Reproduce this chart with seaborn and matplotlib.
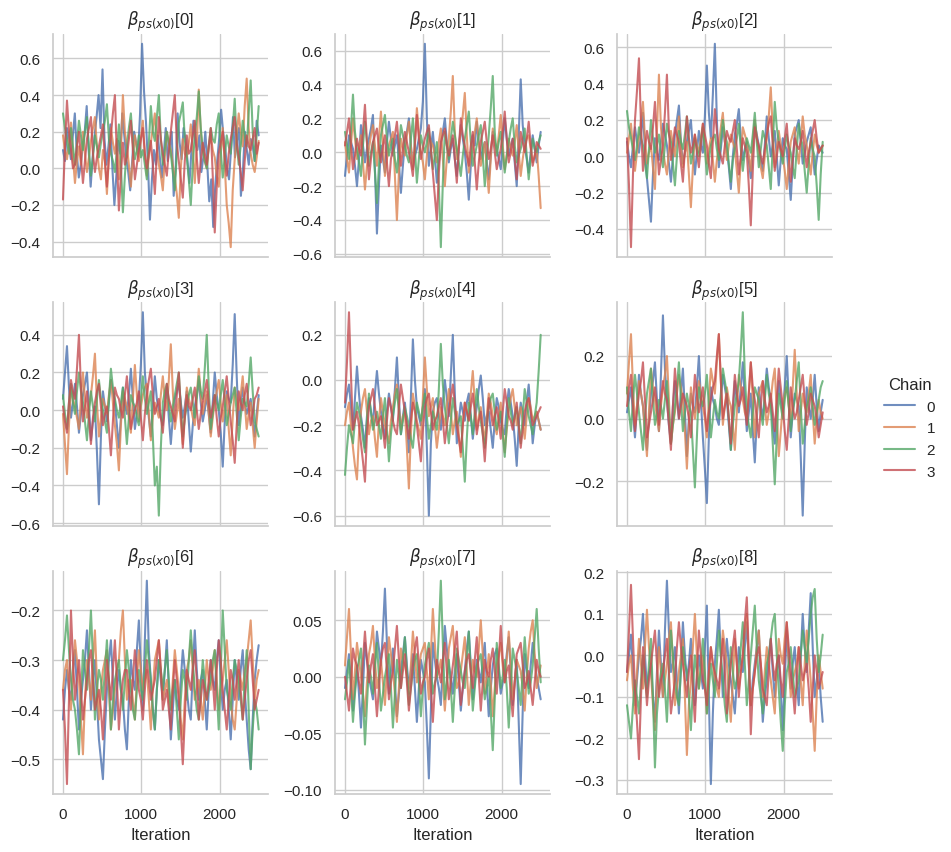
import numpy as np
import pandas as pd
import seaborn as sns
import matplotlib.pyplot as plt

chains = [0, 1, 2, 3]
n_iter = 2500
param_labels = ["$\\beta_{ps(x0)}$[%d]" % k for k in range(9)]

# one list per chain (thinned)
trace_0 = [
    [0.10, 0.04, 0.22, 0.14, 0.05, 0.18, 0.30, 0.08, -0.05, 0.02, 0.12, 0.20, 0.34, 0.10, -0.10, 0.06, 0.18, 0.28, 0.40, 0.22, 0.54, 0.16, 0.02, 0.12, 0.24, 0.00, -0.20, -0.04, 0.15, 0.08, 0.30, 0.18, 0.06, -0.02, -0.12, 0.04, 0.20, 0.14, 0.08, 0.30, 0.68, 0.42, 0.25, 0.02, -0.28, -0.06, 0.10, 0.02, 0.18, 0.06, -0.05, 0.08, 0.22, 0.04, 0.12, 0.20, -0.15, 0.00, 0.30, 0.14, 0.05, 0.22, 0.16, 0.04, -0.08, 0.10, 0.26, 0.14, 0.10, 0.18, -0.02, 0.06, 0.20, 0.02, -0.18, -0.06, -0.32, -0.10, 0.04, 0.16, 0.32, 0.20, 0.12, 0.00, -0.06, 0.10, 0.28, 0.06, 0.15, 0.22, -0.15, -0.02, 0.20, 0.10, 0.02, 0.16, 0.12, 0.04, 0.26, 0.18],
    [0.18, 0.10, 0.05, 0.14, 0.25, 0.06, -0.08, 0.04, 0.12, 0.02, 0.20, 0.08, -0.02, 0.06, 0.15, 0.22, 0.28, 0.12, 0.00, -0.06, 0.10, 0.04, -0.14, 0.06, 0.22, 0.14, 0.08, 0.16, -0.06, 0.10, 0.40, 0.20, 0.12, 0.02, -0.10, 0.06, 0.18, 0.10, 0.04, 0.16, 0.26, 0.08, -0.04, 0.06, 0.14, 0.22, 0.30, 0.12, 0.02, -0.04, -0.12, 0.06, 0.20, 0.14, 0.10, 0.02, -0.05, -0.14, -0.27, 0.00, 0.16, 0.08, 0.06, 0.14, 0.24, 0.10, -0.08, 0.12, 0.43, 0.20, 0.10, 0.04, 0.00, 0.12, 0.18, 0.10, 0.06, -0.04, -0.10, 0.08, 0.22, 0.02, -0.20, -0.30, -0.43, -0.12, 0.05, 0.18, 0.30, 0.20, 0.12, 0.34, 0.49, 0.22, 0.08, 0.02, -0.02, 0.06, 0.15],
    [0.30, 0.22, 0.15, 0.08, 0.22, 0.12, 0.02, 0.14, 0.26, 0.18, 0.10, 0.20, 0.28, 0.10, -0.04, 0.06, 0.18, 0.12, 0.06, 0.14, 0.20, 0.26, 0.35, 0.16, 0.08, 0.04, -0.02, 0.10, 0.24, 0.02, -0.24, -0.04, 0.12, 0.22, 0.30, 0.14, 0.05, 0.10, 0.18, 0.06, 0.10, 0.02, -0.06, 0.14, 0.34, 0.20, 0.15, 0.28, 0.40, 0.16, 0.02, 0.10, 0.20, 0.14, 0.08, -0.02, -0.12, 0.08, 0.25, 0.30, 0.36, 0.16, 0.06, -0.06, -0.20, 0.02, 0.18, 0.28, 0.42, 0.22, 0.10, 0.04, 0.00, 0.12, 0.22, 0.16, 0.14, 0.24, 0.30, 0.10, -0.05, 0.06, 0.18, 0.12, 0.08, 0.22, 0.38, 0.14, 0.02, 0.12, 0.26, 0.18, 0.12, 0.30, 0.48, 0.20, 0.04, 0.18, 0.34],
    [-0.17, 0.12, 0.37, 0.20, 0.10, 0.00, 0.02, 0.12, 0.20, 0.06, -0.08, 0.04, 0.16, 0.22, 0.28, 0.08, -0.02, 0.06, 0.12, 0.18, 0.24, 0.04, -0.10, 0.06, 0.18, 0.30, 0.40, 0.06, -0.23, -0.04, 0.14, 0.02, 0.06, 0.16, 0.26, 0.10, -0.06, 0.02, 0.10, 0.16, 0.22, 0.08, 0.00, 0.08, 0.15, 0.02, -0.14, 0.08, 0.28, 0.16, 0.08, 0.02, -0.04, 0.10, 0.20, 0.30, 0.40, 0.14, 0.04, -0.06, -0.16, 0.04, 0.18, 0.08, 0.10, 0.18, 0.26, 0.06, -0.08, 0.04, 0.14, 0.08, 0.02, 0.12, 0.22, -0.04, -0.35, -0.10, 0.08, 0.14, 0.20, 0.06, -0.04, 0.08, 0.16, 0.22, 0.28, 0.14, 0.06, -0.02, -0.12, 0.04, 0.18, 0.12, 0.10, 0.16, 0.22, 0.08, 0.14],
]
trace_1 = [
    [-0.14, -0.02, 0.10, 0.06, 0.02, -0.08, -0.20, -0.04, 0.16, 0.04, -0.06, 0.02, 0.08, 0.14, 0.22, -0.10, -0.48, -0.20, 0.04, -0.04, -0.12, 0.06, 0.18, 0.08, -0.02, 0.04, 0.10, -0.06, -0.24, -0.08, 0.06, 0.12, 0.20, 0.04, -0.10, -0.02, 0.02, 0.08, 0.14, 0.30, 0.64, 0.20, -0.08, 0.02, 0.12, -0.02, -0.18, -0.06, 0.04, 0.12, 0.20, 0.06, -0.06, 0.02, 0.08, -0.04, -0.14, 0.02, 0.16, 0.08, 0.00, -0.12, -0.28, -0.08, 0.10, 0.04, 0.18, 0.06, -0.04, 0.02, 0.06, -0.06, -0.16, -0.02, 0.12, 0.06, 0.02, -0.04, -0.10, 0.06, 0.20, 0.08, -0.02, 0.04, 0.08, -0.06, -0.20, 0.10, 0.43, 0.16, 0.04, -0.04, -0.12, 0.00, 0.10, 0.02, -0.06, 0.04, 0.12],
    [0.06, -0.04, -0.12, 0.04, 0.20, 0.08, -0.04, 0.02, 0.10, -0.06, -0.22, -0.08, 0.02, 0.10, 0.16, 0.04, -0.08, 0.08, 0.24, 0.06, -0.14, -0.04, 0.04, 0.08, 0.12, -0.14, -0.40, -0.12, 0.08, 0.02, -0.02, 0.10, 0.18, 0.04, -0.10, 0.06, 0.26, 0.12, 0.00, -0.06, -0.16, -0.02, 0.10, 0.06, 0.04, -0.02, -0.06, 0.06, 0.14, -0.04, -0.20, -0.04, 0.08, 0.24, 0.45, 0.12, -0.04, 0.04, 0.12, 0.22, 0.35, 0.10, -0.12, -0.02, 0.02, 0.12, 0.20, 0.06, -0.08, -0.02, 0.06, -0.10, -0.24, -0.04, 0.14, 0.06, 0.00, 0.10, 0.22, 0.04, -0.10, -0.02, 0.08, 0.02, -0.02, 0.06, 0.16, 0.00, -0.14, -0.04, 0.04, 0.08, 0.10, 0.02, -0.06, -0.02, 0.02, -0.14, -0.33],
    [0.12, 0.04, -0.04, 0.14, 0.34, 0.12, 0.02, -0.06, -0.14, 0.04, 0.18, 0.06, -0.08, 0.00, 0.06, -0.12, -0.30, -0.08, 0.10, 0.16, 0.22, 0.08, -0.02, 0.04, 0.08, -0.04, -0.12, 0.02, 0.16, 0.10, 0.04, -0.02, -0.06, 0.08, 0.20, 0.02, -0.18, -0.04, 0.10, 0.04, 0.00, 0.06, 0.14, 0.02, -0.10, -0.02, 0.06, -0.20, -0.56, -0.18, 0.12, 0.04, -0.04, 0.08, 0.18, 0.10, 0.02, -0.06, -0.14, -0.02, 0.08, 0.16, 0.24, 0.06, -0.08, -0.02, 0.04, 0.10, 0.16, -0.02, -0.20, -0.04, 0.10, 0.26, 0.45, 0.12, -0.02, 0.06, 0.12, 0.00, -0.12, -0.02, 0.06, 0.14, 0.20, 0.04, -0.06, -0.02, 0.02, 0.08, 0.14, -0.02, -0.16, -0.04, 0.08, 0.02, 0.00, 0.06, 0.10],
    [0.04, 0.12, 0.20, 0.04, -0.10, -0.02, 0.08, 0.02, -0.02, 0.12, 0.28, 0.06, -0.16, -0.04, 0.06, 0.10, 0.14, 0.02, -0.06, 0.04, 0.10, -0.06, -0.20, -0.04, 0.02, 0.10, 0.18, 0.04, -0.08, 0.02, 0.12, 0.06, 0.00, -0.06, -0.14, 0.04, 0.22, 0.08, -0.04, 0.02, 0.08, 0.12, 0.16, 0.02, -0.12, -0.26, -0.40, -0.12, 0.06, 0.10, 0.14, 0.04, -0.02, 0.04, 0.10, -0.04, -0.18, 0.02, 0.20, 0.10, 0.04, -0.02, -0.08, 0.04, 0.12, -0.06, -0.22, -0.06, 0.06, 0.12, 0.18, 0.06, -0.04, 0.02, 0.10, 0.00, -0.10, -0.04, 0.02, 0.12, 0.24, 0.08, -0.06, 0.00, 0.08, -0.04, -0.16, -0.02, 0.12, 0.06, 0.00, 0.08, 0.18, 0.04, -0.08, -0.02, 0.06, 0.04, 0.02],
]
trace_2 = [
    [0.08, 0.00, -0.06, 0.06, 0.16, 0.08, 0.02, 0.12, 0.24, 0.04, -0.12, -0.24, -0.36, -0.10, 0.10, 0.02, -0.02, 0.08, 0.18, 0.12, 0.06, -0.04, -0.14, 0.00, 0.12, 0.20, 0.28, 0.08, -0.04, 0.02, 0.08, 0.14, 0.20, 0.04, -0.10, 0.02, 0.14, 0.06, 0.02, 0.22, 0.50, 0.24, 0.10, 0.34, 0.62, 0.20, -0.06, 0.04, 0.16, 0.08, 0.04, -0.06, -0.18, 0.00, 0.12, 0.18, 0.26, 0.10, -0.02, 0.04, 0.08, -0.02, -0.12, 0.04, 0.18, 0.12, 0.06, -0.02, -0.08, 0.06, 0.22, 0.10, 0.00, 0.06, 0.14, 0.00, -0.16, -0.02, 0.10, 0.06, 0.04, -0.10, -0.24, -0.04, 0.12, 0.16, 0.20, 0.08, -0.04, 0.02, 0.08, 0.12, 0.16, 0.02, -0.10, -0.02, 0.06, 0.04, 0.02],
    [0.02, 0.10, 0.18, 0.04, -0.08, 0.02, 0.10, 0.20, 0.30, 0.10, -0.04, 0.02, 0.06, -0.06, -0.18, 0.14, 0.45, 0.16, 0.04, -0.04, -0.10, 0.04, 0.14, 0.06, 0.00, 0.10, 0.22, 0.06, -0.06, 0.02, 0.08, -0.10, -0.28, -0.06, 0.12, 0.06, 0.02, 0.10, 0.18, 0.06, -0.04, 0.04, 0.10, -0.02, -0.14, -0.02, 0.06, 0.16, 0.24, 0.08, -0.02, 0.06, 0.12, 0.08, 0.04, -0.08, -0.20, -0.02, 0.16, 0.12, 0.08, 0.00, -0.08, 0.08, 0.20, 0.10, 0.02, -0.06, -0.12, 0.00, 0.10, 0.22, 0.38, 0.14, -0.06, 0.04, 0.14, 0.06, 0.00, -0.08, -0.18, -0.04, 0.08, 0.12, 0.16, 0.04, -0.04, 0.08, 0.22, 0.12, 0.06, -0.02, -0.10, 0.02, 0.12, 0.06, 0.02, 0.04, 0.06],
    [0.25, 0.16, 0.10, 0.04, -0.02, 0.06, 0.16, 0.10, 0.06, -0.04, -0.12, 0.04, 0.20, 0.10, 0.02, 0.06, 0.12, 0.02, -0.06, 0.06, 0.18, 0.12, 0.08, -0.04, -0.16, 0.00, 0.14, 0.08, 0.04, 0.12, 0.22, 0.08, -0.04, 0.02, 0.10, 0.04, 0.00, 0.08, 0.16, 0.04, -0.10, -0.02, 0.06, 0.10, 0.12, 0.04, -0.02, 0.08, 0.20, 0.12, 0.08, -0.04, -0.14, -0.02, 0.04, 0.10, 0.18, 0.04, -0.08, 0.02, 0.10, 0.06, 0.02, 0.12, 0.24, 0.08, -0.06, 0.04, 0.14, 0.10, 0.06, -0.06, -0.18, 0.06, 0.30, 0.16, 0.08, 0.02, -0.04, 0.04, 0.12, 0.06, 0.02, -0.06, -0.12, 0.04, 0.18, 0.10, 0.06, -0.08, -0.20, -0.04, 0.10, 0.04, 0.00, -0.16, -0.35, -0.10, 0.08],
    [0.10, -0.16, -0.50, -0.10, 0.20, 0.36, 0.54, 0.18, -0.08, 0.04, 0.14, 0.08, 0.04, 0.16, 0.30, 0.08, -0.10, -0.02, 0.06, 0.24, 0.45, 0.14, -0.02, 0.06, 0.16, 0.12, 0.08, -0.04, -0.14, 0.04, 0.22, 0.10, 0.02, 0.06, 0.12, 0.02, -0.06, 0.06, 0.18, 0.12, 0.06, -0.04, -0.12, 0.08, 0.26, 0.14, 0.04, 0.00, -0.04, 0.06, 0.14, 0.10, 0.08, 0.14, 0.20, 0.04, -0.10, 0.00, 0.10, 0.06, 0.02, -0.16, -0.38, -0.08, 0.16, 0.10, 0.06, 0.00, -0.04, 0.04, 0.12, 0.18, 0.22, 0.06, -0.08, 0.00, 0.08, 0.04, 0.00, 0.10, 0.18, 0.02, -0.14, -0.02, 0.10, 0.06, 0.04, 0.08, 0.14, 0.04, -0.06, 0.02, 0.08, 0.14, 0.20, 0.10, 0.02, 0.04, 0.06],
]
trace_3 = [
    [0.06, 0.20, 0.34, 0.12, -0.04, 0.04, 0.14, 0.02, -0.12, -0.02, 0.08, 0.14, 0.20, 0.02, -0.16, -0.06, 0.02, -0.22, -0.50, -0.14, 0.10, 0.02, -0.06, 0.04, 0.16, 0.10, 0.04, -0.08, -0.20, -0.04, 0.12, 0.04, -0.02, 0.08, 0.22, 0.06, -0.10, -0.02, 0.06, 0.24, 0.52, 0.20, 0.08, -0.04, -0.14, 0.02, 0.18, 0.06, 0.00, -0.04, -0.08, 0.04, 0.12, -0.04, -0.18, -0.04, 0.06, 0.10, 0.14, 0.04, -0.04, 0.02, 0.10, -0.06, -0.22, -0.08, 0.02, 0.08, 0.16, 0.04, -0.06, 0.00, 0.08, -0.02, -0.12, 0.04, 0.20, 0.08, 0.00, -0.12, -0.30, -0.06, 0.10, 0.06, 0.04, 0.24, 0.51, 0.18, -0.08, 0.02, 0.12, 0.04, -0.02, 0.02, 0.06, -0.04, -0.14, -0.02, 0.08],
    [-0.02, -0.18, -0.34, -0.08, 0.12, 0.06, 0.02, -0.04, -0.10, 0.06, 0.20, 0.06, -0.04, 0.02, 0.08, 0.18, 0.30, 0.04, -0.14, -0.04, 0.06, 0.02, -0.02, 0.08, 0.16, 0.04, -0.08, -0.18, -0.32, -0.08, 0.10, 0.06, 0.02, -0.04, -0.12, 0.06, 0.24, 0.08, -0.06, 0.02, 0.08, 0.12, 0.14, -0.02, -0.16, -0.04, 0.04, 0.00, -0.04, 0.08, 0.18, 0.06, 0.00, 0.16, 0.35, 0.10, -0.10, -0.02, 0.06, -0.06, -0.18, -0.02, 0.12, 0.06, 0.02, -0.04, -0.08, 0.08, 0.22, 0.08, -0.02, 0.04, 0.10, -0.02, -0.14, -0.04, 0.04, 0.10, 0.16, 0.04, -0.06, 0.02, 0.08, -0.10, -0.24, -0.04, 0.12, 0.06, 0.00, 0.08, 0.18, 0.04, -0.10, -0.02, 0.04, -0.08, -0.20, -0.06, 0.06],
    [0.08, -0.02, -0.10, 0.04, 0.14, 0.04, -0.02, 0.10, 0.20, 0.10, 0.04, -0.06, -0.16, -0.02, 0.10, 0.02, -0.06, 0.06, 0.16, 0.06, 0.00, -0.06, -0.12, 0.06, 0.22, 0.12, 0.06, 0.00, -0.04, 0.04, 0.12, -0.04, -0.18, -0.04, 0.08, 0.04, 0.02, -0.04, -0.08, 0.06, 0.18, 0.06, -0.02, 0.04, 0.10, -0.14, -0.40, -0.30, -0.56, -0.20, 0.04, 0.10, 0.14, 0.04, -0.06, 0.02, 0.08, 0.14, 0.20, 0.02, -0.14, -0.04, 0.02, 0.08, 0.12, 0.04, -0.04, 0.06, 0.18, 0.10, 0.06, 0.22, 0.40, 0.12, -0.10, -0.02, 0.08, 0.04, 0.00, 0.08, 0.16, 0.04, -0.08, -0.02, 0.04, 0.08, 0.12, -0.02, -0.16, -0.04, 0.06, 0.04, 0.02, 0.14, 0.28, 0.10, -0.06, -0.10, -0.14],
    [0.02, -0.06, -0.12, 0.04, 0.16, 0.10, 0.06, 0.22, 0.40, 0.12, -0.06, 0.02, 0.10, -0.04, -0.18, -0.04, 0.04, 0.10, 0.14, 0.02, -0.08, -0.02, 0.02, -0.10, -0.24, -0.06, 0.12, 0.08, 0.06, 0.00, -0.04, 0.08, 0.18, 0.04, -0.10, -0.04, 0.00, 0.04, 0.10, -0.04, -0.16, -0.02, 0.08, 0.16, 0.22, 0.08, -0.02, 0.02, 0.06, -0.04, -0.12, 0.02, 0.14, 0.06, 0.02, -0.02, -0.06, 0.08, 0.20, 0.00, -0.20, -0.04, 0.08, 0.02, 0.00, 0.06, 0.12, 0.00, -0.10, -0.02, 0.04, 0.10, 0.16, 0.04, -0.04, 0.02, 0.08, -0.04, -0.14, -0.04, 0.02, 0.10, 0.18, 0.06, -0.06, -0.16, -0.28, -0.08, 0.10, 0.04, 0.00, 0.08, 0.14, 0.02, -0.08, -0.02, 0.06, 0.08, 0.12],
]
trace_4 = [
    [-0.12, -0.06, -0.02, -0.12, -0.22, -0.08, 0.06, -0.06, -0.16, -0.22, -0.30, -0.16, -0.08, -0.14, -0.20, -0.06, 0.04, -0.06, -0.14, -0.20, -0.26, -0.14, -0.06, -0.12, -0.18, -0.04, 0.10, -0.08, -0.24, -0.16, -0.10, -0.20, -0.32, -0.08, 0.18, 0.00, -0.12, -0.16, -0.20, -0.12, -0.04, -0.30, -0.60, -0.28, -0.14, -0.10, -0.08, -0.16, -0.22, -0.10, 0.00, -0.08, -0.16, 0.02, 0.20, -0.06, -0.28, -0.18, -0.10, -0.14, -0.18, -0.10, -0.06, -0.16, -0.26, -0.18, -0.12, -0.04, 0.02, -0.08, -0.20, -0.16, -0.14, -0.22, -0.30, -0.18, -0.08, -0.12, -0.18, -0.22, -0.24, -0.12, -0.04, -0.10, -0.16, -0.26, -0.38, -0.20, -0.10, -0.14, -0.20, -0.10, -0.02, -0.14, -0.28, -0.20, -0.14, -0.18, -0.22],
    [-0.20, -0.14, -0.10, -0.20, -0.30, -0.38, -0.44, -0.24, -0.14, -0.08, -0.04, -0.14, -0.24, -0.18, -0.16, -0.26, -0.34, -0.18, -0.08, -0.14, -0.20, -0.24, -0.28, -0.18, -0.12, -0.06, -0.02, -0.12, -0.22, -0.16, -0.14, -0.30, -0.48, -0.24, -0.06, -0.12, -0.18, -0.22, -0.26, -0.08, 0.10, -0.04, -0.16, -0.12, -0.08, -0.20, -0.30, -0.22, -0.12, -0.16, -0.20, -0.12, -0.04, -0.14, -0.24, -0.18, -0.14, -0.24, -0.34, -0.20, -0.10, -0.14, -0.18, -0.06, 0.04, -0.10, -0.22, -0.16, -0.12, -0.20, -0.28, -0.16, -0.06, -0.10, -0.16, -0.20, -0.24, -0.16, -0.10, -0.22, -0.32, -0.22, -0.14, -0.08, -0.04, -0.12, -0.20, -0.16, -0.12, -0.18, -0.26, -0.16, -0.08, -0.12, -0.18, -0.16, -0.14, -0.18, -0.22],
    [-0.42, -0.30, -0.20, -0.24, -0.28, -0.18, -0.10, -0.14, -0.18, -0.26, -0.32, -0.18, -0.06, -0.14, -0.22, -0.18, -0.14, -0.20, -0.26, -0.16, -0.08, -0.22, -0.36, -0.24, -0.16, -0.10, -0.04, -0.14, -0.24, -0.18, -0.12, -0.16, -0.20, -0.26, -0.30, -0.20, -0.10, -0.14, -0.18, -0.12, -0.06, -0.16, -0.26, -0.20, -0.14, -0.18, -0.22, -0.04, 0.16, -0.02, -0.12, -0.20, -0.28, -0.18, -0.08, -0.14, -0.20, -0.18, -0.16, -0.30, -0.45, -0.26, -0.10, -0.16, -0.24, -0.14, -0.04, -0.12, -0.18, -0.24, -0.30, -0.20, -0.12, -0.08, -0.06, -0.14, -0.22, -0.18, -0.14, -0.24, -0.34, -0.20, -0.08, -0.14, -0.20, -0.16, -0.12, -0.20, -0.28, -0.16, -0.04, -0.10, -0.16, -0.20, -0.24, -0.16, -0.10, 0.04, 0.20],
    [-0.10, 0.08, 0.30, 0.02, -0.22, -0.18, -0.14, -0.20, -0.28, -0.36, -0.45, -0.24, -0.12, -0.08, -0.04, -0.12, -0.20, -0.18, -0.16, -0.22, -0.30, -0.18, -0.08, -0.12, -0.18, -0.22, -0.24, -0.12, -0.02, -0.08, -0.14, -0.20, -0.26, -0.18, -0.10, -0.14, -0.20, -0.28, -0.36, -0.22, -0.12, -0.08, -0.06, -0.14, -0.22, -0.18, -0.16, -0.12, -0.08, -0.18, -0.28, -0.20, -0.14, -0.08, -0.02, -0.10, -0.20, -0.26, -0.32, -0.20, -0.10, -0.14, -0.18, -0.12, -0.06, -0.14, -0.24, -0.18, -0.14, -0.24, -0.36, -0.22, -0.08, -0.14, -0.20, -0.16, -0.12, -0.18, -0.26, -0.14, -0.04, -0.10, -0.16, -0.18, -0.22, -0.16, -0.10, -0.20, -0.30, -0.22, -0.14, -0.10, -0.08, -0.14, -0.20, -0.18, -0.16, -0.14, -0.12],
]
trace_5 = [
    [0.02, 0.06, 0.10, 0.02, -0.06, 0.04, 0.14, 0.08, 0.04, -0.04, -0.10, 0.00, 0.08, 0.12, 0.18, 0.06, -0.04, 0.14, 0.33, 0.16, 0.06, -0.02, -0.08, 0.04, 0.12, 0.06, 0.00, 0.08, 0.16, 0.02, -0.12, 0.00, 0.08, 0.04, 0.02, 0.10, 0.20, 0.06, -0.06, -0.16, -0.27, -0.06, 0.10, 0.06, 0.04, 0.00, -0.02, 0.06, 0.14, 0.10, 0.06, -0.02, -0.10, 0.02, 0.12, 0.06, 0.02, 0.10, 0.18, 0.06, -0.04, 0.02, 0.08, -0.04, -0.14, 0.00, 0.10, 0.04, 0.00, 0.08, 0.16, 0.10, 0.06, -0.02, -0.08, 0.04, 0.12, 0.06, 0.02, 0.10, 0.20, 0.06, -0.06, 0.02, 0.08, 0.06, 0.04, -0.12, -0.31, -0.08, 0.10, 0.04, 0.00, 0.06, 0.14, 0.04, -0.04, 0.02, 0.06],
    [0.08, 0.18, 0.27, 0.10, -0.02, 0.04, 0.12, 0.08, 0.04, -0.04, -0.12, 0.02, 0.16, 0.10, 0.06, 0.00, -0.04, 0.04, 0.10, 0.14, 0.20, 0.06, -0.08, -0.02, 0.02, 0.08, 0.14, 0.10, 0.06, -0.04, -0.16, -0.02, 0.10, 0.04, 0.00, 0.06, 0.12, 0.08, 0.04, 0.00, -0.06, 0.06, 0.16, 0.12, 0.08, 0.18, 0.27, 0.12, -0.02, 0.04, 0.10, 0.06, 0.04, -0.02, -0.10, 0.02, 0.14, 0.10, 0.06, 0.02, 0.00, 0.08, 0.18, 0.06, -0.06, 0.02, 0.08, 0.10, 0.12, 0.04, -0.02, 0.02, 0.06, 0.12, 0.16, 0.02, -0.12, -0.04, 0.04, 0.08, 0.10, 0.04, 0.00, 0.10, 0.22, 0.08, -0.04, 0.02, 0.08, 0.04, 0.02, 0.08, 0.14, 0.02, -0.08, 0.00, 0.06, 0.02, 0.00],
    [0.10, 0.02, -0.04, 0.06, 0.14, 0.08, 0.02, -0.04, -0.10, 0.00, 0.08, 0.12, 0.16, 0.06, -0.02, 0.02, 0.06, 0.04, 0.00, 0.06, 0.12, 0.02, -0.08, -0.02, 0.04, 0.10, 0.18, 0.06, -0.04, 0.02, 0.08, 0.04, 0.02, -0.10, -0.22, -0.06, 0.10, 0.06, 0.04, 0.08, 0.14, 0.04, -0.06, 0.00, 0.06, 0.02, 0.00, 0.08, 0.16, 0.12, 0.08, 0.00, -0.10, -0.02, 0.04, 0.08, 0.12, 0.22, 0.34, 0.14, 0.02, -0.02, -0.06, 0.02, 0.10, 0.08, 0.06, 0.02, -0.02, 0.06, 0.14, 0.08, 0.04, -0.08, -0.21, -0.06, 0.08, 0.04, 0.00, 0.06, 0.12, 0.04, -0.04, 0.02, 0.06, 0.12, 0.18, 0.04, -0.08, -0.02, 0.04, 0.06, 0.10, 0.04, -0.02, 0.02, 0.06, 0.10, 0.12],
    [0.04, 0.10, 0.14, 0.04, -0.04, 0.02, 0.08, 0.12, 0.18, 0.06, -0.06, -0.02, 0.02, 0.06, 0.10, 0.04, -0.02, 0.06, 0.12, 0.08, 0.06, -0.02, -0.10, 0.04, 0.16, 0.08, 0.00, 0.04, 0.08, 0.06, 0.04, 0.00, -0.06, 0.04, 0.14, 0.08, 0.02, 0.06, 0.10, 0.02, -0.04, 0.02, 0.06, 0.10, 0.12, 0.20, 0.27, 0.12, 0.00, 0.04, 0.08, 0.00, -0.08, 0.04, 0.14, 0.08, 0.04, 0.06, 0.10, 0.04, -0.02, 0.08, 0.18, 0.10, 0.06, 0.00, -0.06, 0.04, 0.12, 0.06, 0.02, 0.04, 0.08, 0.02, -0.04, 0.06, 0.16, 0.10, 0.04, -0.04, -0.10, 0.00, 0.10, 0.04, 0.00, 0.02, 0.06, 0.10, 0.14, 0.06, -0.02, 0.02, 0.08, 0.06, 0.04, 0.00, -0.06, -0.02, 0.02],
]
trace_6 = [
    [-0.42, -0.36, -0.32, -0.36, -0.38, -0.32, -0.28, -0.36, -0.44, -0.38, -0.34, -0.30, -0.24, -0.32, -0.40, -0.34, -0.30, -0.38, -0.46, -0.50, -0.54, -0.44, -0.36, -0.30, -0.26, -0.34, -0.42, -0.36, -0.32, -0.36, -0.38, -0.44, -0.48, -0.38, -0.30, -0.34, -0.36, -0.28, -0.22, -0.32, -0.40, -0.26, -0.14, -0.28, -0.34, -0.40, -0.44, -0.36, -0.30, -0.34, -0.38, -0.32, -0.26, -0.36, -0.46, -0.40, -0.34, -0.38, -0.40, -0.34, -0.28, -0.32, -0.36, -0.40, -0.42, -0.32, -0.24, -0.32, -0.38, -0.34, -0.32, -0.38, -0.44, -0.36, -0.30, -0.34, -0.36, -0.30, -0.26, -0.34, -0.40, -0.36, -0.34, -0.40, -0.46, -0.38, -0.30, -0.34, -0.38, -0.32, -0.28, -0.36, -0.42, -0.48, -0.52, -0.42, -0.34, -0.30, -0.27],
    [-0.36, -0.32, -0.30, -0.36, -0.40, -0.32, -0.26, -0.30, -0.34, -0.42, -0.49, -0.38, -0.30, -0.34, -0.38, -0.30, -0.24, -0.34, -0.42, -0.36, -0.32, -0.30, -0.28, -0.36, -0.44, -0.40, -0.36, -0.32, -0.30, -0.24, -0.20, -0.30, -0.38, -0.34, -0.34, -0.38, -0.42, -0.34, -0.28, -0.32, -0.36, -0.34, -0.32, -0.38, -0.44, -0.36, -0.30, -0.28, -0.26, -0.32, -0.38, -0.36, -0.34, -0.38, -0.40, -0.34, -0.28, -0.32, -0.36, -0.42, -0.46, -0.38, -0.32, -0.30, -0.26, -0.32, -0.38, -0.36, -0.34, -0.38, -0.42, -0.36, -0.30, -0.34, -0.36, -0.32, -0.28, -0.34, -0.40, -0.36, -0.34, -0.30, -0.26, -0.32, -0.38, -0.42, -0.44, -0.38, -0.32, -0.34, -0.36, -0.32, -0.30, -0.26, -0.22, -0.30, -0.38, -0.34, -0.32],
    [-0.30, -0.26, -0.21, -0.28, -0.34, -0.38, -0.40, -0.44, -0.49, -0.38, -0.28, -0.32, -0.36, -0.28, -0.20, -0.30, -0.42, -0.36, -0.32, -0.34, -0.38, -0.32, -0.26, -0.34, -0.44, -0.38, -0.34, -0.32, -0.30, -0.36, -0.40, -0.34, -0.28, -0.32, -0.36, -0.40, -0.42, -0.36, -0.32, -0.36, -0.38, -0.32, -0.26, -0.30, -0.34, -0.40, -0.44, -0.36, -0.30, -0.32, -0.36, -0.32, -0.28, -0.34, -0.40, -0.36, -0.34, -0.40, -0.46, -0.38, -0.32, -0.34, -0.38, -0.30, -0.24, -0.30, -0.36, -0.40, -0.42, -0.36, -0.30, -0.34, -0.38, -0.36, -0.34, -0.30, -0.28, -0.36, -0.44, -0.32, -0.20, -0.28, -0.36, -0.38, -0.40, -0.34, -0.30, -0.32, -0.34, -0.38, -0.42, -0.34, -0.28, -0.40, -0.52, -0.44, -0.38, -0.40, -0.44],
    [-0.36, -0.44, -0.55, -0.38, -0.20, -0.30, -0.38, -0.34, -0.30, -0.36, -0.42, -0.38, -0.34, -0.30, -0.28, -0.34, -0.40, -0.38, -0.36, -0.40, -0.46, -0.38, -0.30, -0.34, -0.38, -0.32, -0.26, -0.34, -0.44, -0.38, -0.34, -0.32, -0.32, -0.36, -0.40, -0.34, -0.28, -0.32, -0.36, -0.38, -0.42, -0.36, -0.30, -0.34, -0.38, -0.36, -0.34, -0.30, -0.26, -0.32, -0.40, -0.38, -0.36, -0.40, -0.44, -0.36, -0.30, -0.34, -0.38, -0.44, -0.51, -0.42, -0.32, -0.34, -0.36, -0.32, -0.28, -0.34, -0.42, -0.38, -0.34, -0.36, -0.38, -0.34, -0.30, -0.34, -0.40, -0.32, -0.26, -0.30, -0.36, -0.40, -0.44, -0.38, -0.32, -0.34, -0.38, -0.34, -0.30, -0.36, -0.42, -0.38, -0.34, -0.30, -0.28, -0.34, -0.40, -0.38, -0.36],
]
trace_7 = [
    [-0.010, 0.005, 0.020, -0.005, -0.030, -0.010, 0.010, -0.015, -0.045, -0.010, 0.030, 0.015, 0.000, -0.010, -0.020, 0.010, 0.040, 0.025, 0.010, 0.040, 0.078, 0.030, -0.015, 0.005, 0.025, -0.005, -0.035, -0.015, 0.005, 0.020, 0.035, 0.010, -0.010, 0.005, 0.020, -0.010, -0.040, -0.010, 0.015, 0.005, -0.005, -0.045, -0.090, -0.030, 0.030, 0.015, 0.000, -0.010, -0.025, 0.010, 0.045, 0.025, 0.010, 0.000, -0.015, 0.005, 0.020, -0.005, -0.030, -0.010, 0.005, 0.025, 0.040, 0.010, -0.020, -0.005, 0.015, 0.005, -0.005, 0.015, 0.030, -0.005, -0.035, -0.010, 0.010, 0.020, 0.025, 0.005, -0.015, -0.005, 0.000, 0.020, 0.035, 0.005, -0.025, -0.005, 0.015, -0.040, -0.095, -0.030, 0.020, 0.005, -0.010, 0.010, 0.030, 0.015, 0.000, -0.010, -0.020],
    [0.010, 0.035, 0.060, 0.020, -0.020, 0.005, 0.030, 0.015, 0.000, -0.015, -0.035, -0.005, 0.020, 0.030, 0.045, 0.015, -0.010, 0.000, 0.015, -0.005, -0.025, 0.005, 0.035, 0.020, 0.005, -0.015, -0.040, -0.010, 0.025, 0.015, 0.010, 0.000, -0.015, 0.010, 0.040, 0.020, -0.005, 0.005, 0.020, 0.025, 0.030, 0.005, -0.020, 0.020, 0.060, 0.030, 0.000, 0.005, 0.015, -0.005, -0.030, -0.005, 0.025, 0.035, 0.045, 0.015, -0.010, -0.005, 0.005, 0.020, 0.035, 0.005, -0.025, -0.005, 0.015, 0.005, 0.000, 0.025, 0.050, 0.020, -0.015, 0.000, 0.020, -0.005, -0.035, -0.010, 0.010, 0.020, 0.030, 0.010, -0.005, 0.015, 0.040, 0.010, -0.020, -0.005, 0.015, 0.010, 0.005, -0.010, -0.030, 0.000, 0.025, 0.040, 0.050, 0.020, -0.010, 0.000, 0.010],
    [-0.020, -0.005, 0.015, -0.010, -0.040, -0.015, 0.005, 0.015, 0.025, -0.015, -0.060, -0.025, 0.010, 0.000, -0.015, 0.010, 0.030, 0.000, -0.030, -0.015, 0.000, 0.010, 0.020, -0.010, -0.045, -0.015, 0.015, 0.000, -0.010, 0.015, 0.035, 0.005, -0.025, -0.010, 0.005, 0.015, 0.020, -0.005, -0.035, -0.010, 0.010, 0.020, 0.030, 0.005, -0.015, -0.005, 0.000, 0.040, 0.085, 0.030, -0.020, -0.005, 0.015, -0.010, -0.040, -0.010, 0.025, 0.015, 0.005, -0.005, -0.010, 0.015, 0.040, 0.005, -0.030, -0.010, 0.010, 0.015, 0.020, 0.000, -0.020, -0.010, 0.000, -0.030, -0.065, -0.020, 0.030, 0.010, -0.010, 0.000, 0.015, -0.010, -0.045, -0.010, 0.025, 0.015, 0.005, -0.010, -0.025, 0.005, 0.035, 0.010, -0.015, -0.005, 0.010, 0.035, 0.060, 0.025, -0.005],
    [0.000, -0.015, -0.030, -0.005, 0.025, 0.015, 0.010, -0.005, -0.015, 0.015, 0.040, 0.015, -0.005, 0.010, 0.020, -0.010, -0.035, -0.010, 0.015, 0.025, 0.030, 0.005, -0.020, -0.005, 0.005, 0.025, 0.045, 0.015, -0.010, 0.005, 0.020, -0.005, -0.030, -0.010, 0.010, 0.025, 0.035, 0.010, -0.015, -0.005, 0.000, 0.015, 0.025, -0.010, -0.040, -0.010, 0.015, 0.005, -0.005, 0.015, 0.030, 0.005, -0.020, -0.005, 0.010, 0.025, 0.040, 0.005, -0.025, -0.010, 0.005, 0.015, 0.020, 0.005, -0.010, 0.015, 0.035, 0.000, -0.030, -0.005, 0.015, 0.005, 0.000, 0.015, 0.025, 0.005, -0.015, 0.015, 0.045, 0.015, -0.005, 0.005, 0.010, -0.015, -0.035, -0.005, 0.020, 0.025, 0.030, 0.010, -0.010, -0.005, 0.005, -0.010, -0.025, -0.005, 0.015, 0.005, 0.000],
]
trace_8 = [
    [-0.04, 0.00, 0.05, -0.04, -0.12, -0.06, 0.00, 0.04, 0.10, 0.00, -0.08, -0.04, -0.02, -0.10, -0.16, -0.04, 0.06, -0.02, -0.10, 0.06, 0.18, 0.06, -0.04, -0.02, 0.02, -0.06, -0.14, -0.02, 0.08, 0.00, -0.06, -0.02, 0.04, -0.04, -0.12, -0.06, 0.00, -0.04, -0.08, 0.02, 0.12, -0.10, -0.31, -0.14, -0.02, 0.04, 0.11, 0.00, -0.10, -0.02, 0.04, -0.02, -0.06, -0.10, -0.14, -0.06, 0.02, -0.02, -0.04, 0.02, 0.08, -0.02, -0.12, -0.06, -0.02, 0.02, 0.06, -0.06, -0.16, -0.10, -0.06, 0.00, 0.04, -0.04, -0.10, -0.04, 0.00, -0.08, -0.18, -0.06, 0.06, -0.02, -0.08, -0.02, 0.02, -0.06, -0.12, 0.00, 0.10, 0.02, -0.04, 0.06, 0.15, 0.02, -0.10, -0.06, -0.02, -0.10, -0.16],
    [-0.06, -0.02, 0.00, -0.08, -0.14, -0.04, 0.04, -0.02, -0.08, 0.02, 0.11, 0.02, -0.04, -0.12, -0.18, -0.06, 0.02, -0.04, -0.10, -0.06, -0.02, 0.04, 0.08, -0.02, -0.12, -0.08, -0.04, 0.00, 0.04, -0.10, -0.24, -0.12, -0.06, 0.02, 0.10, 0.00, -0.08, -0.04, 0.00, -0.06, -0.14, -0.04, 0.02, -0.02, -0.06, -0.08, -0.10, -0.02, 0.06, 0.02, -0.02, -0.10, -0.16, -0.06, 0.04, -0.02, -0.08, -0.04, 0.00, 0.06, 0.10, -0.02, -0.12, -0.08, -0.04, 0.02, 0.06, -0.02, -0.10, -0.04, 0.02, -0.02, -0.06, -0.10, -0.14, -0.04, 0.04, 0.00, -0.02, 0.04, 0.08, -0.02, -0.10, -0.06, -0.04, -0.02, 0.02, -0.06, -0.12, -0.02, 0.06, 0.00, -0.06, -0.14, -0.23, -0.10, 0.00, -0.04, -0.08],
    [-0.12, -0.16, -0.20, -0.12, -0.06, -0.10, -0.14, -0.06, 0.00, -0.06, -0.10, -0.02, 0.04, -0.10, -0.27, -0.14, -0.08, -0.04, -0.02, -0.08, -0.16, -0.04, 0.06, 0.00, -0.06, -0.10, -0.12, -0.04, 0.02, -0.02, -0.04, -0.10, -0.18, -0.08, 0.00, -0.04, -0.08, -0.02, 0.04, -0.04, -0.14, -0.08, -0.02, -0.06, -0.10, -0.02, 0.06, 0.00, -0.06, -0.12, -0.16, -0.06, 0.02, -0.04, -0.08, -0.06, -0.04, 0.02, 0.08, -0.02, -0.12, -0.06, 0.00, 0.06, 0.12, 0.02, -0.06, -0.10, -0.14, -0.08, -0.02, 0.00, 0.04, 0.08, 0.10, 0.00, -0.08, -0.16, -0.23, -0.12, -0.04, -0.02, 0.02, -0.04, -0.10, -0.08, -0.06, 0.00, 0.06, 0.02, -0.02, 0.04, 0.10, 0.14, 0.16, 0.04, -0.04, 0.00, 0.05],
    [-0.04, 0.06, 0.17, 0.04, -0.08, -0.16, -0.25, -0.10, 0.02, -0.04, -0.12, -0.06, -0.02, 0.02, 0.06, -0.02, -0.10, -0.06, -0.04, 0.00, 0.04, -0.04, -0.14, -0.10, -0.06, 0.02, 0.08, 0.02, -0.02, -0.06, -0.10, -0.04, 0.00, -0.08, -0.16, -0.04, 0.06, 0.00, -0.06, -0.08, -0.12, -0.04, 0.02, -0.02, -0.04, -0.06, -0.08, -0.02, 0.04, -0.04, -0.14, -0.08, -0.02, 0.02, 0.06, -0.02, -0.10, -0.04, 0.00, 0.08, 0.14, 0.00, -0.19, -0.08, -0.04, 0.00, 0.02, -0.02, -0.08, -0.10, -0.12, -0.04, 0.04, -0.02, -0.06, -0.02, 0.00, -0.06, -0.10, 0.00, 0.08, 0.02, -0.04, -0.08, -0.14, -0.06, 0.02, -0.02, -0.06, -0.04, -0.02, -0.08, -0.16, -0.08, 0.00, -0.04, -0.08, -0.06, -0.04],
]

traces = [trace_0, trace_1, trace_2, trace_3, trace_4,
          trace_5, trace_6, trace_7, trace_8]

# long format for FacetGrid
frames = []
for label, trace in zip(param_labels, traces):
    for chain, vals in zip(chains, trace):
        frames.append(pd.DataFrame({
            "Iteration": np.linspace(0, n_iter - 1, len(vals)),
            "value": vals,
            "Chain": chain,
            "param": label,
        }))
df = pd.concat(frames, ignore_index=True)

sns.set_theme(style="whitegrid")
plt.rcParams["font.family"] = ["Liberation Sans", "DejaVu Sans"]

g = sns.FacetGrid(df, col="param", hue="Chain", col_wrap=3,
                  sharey=False, height=2.8)
g.map(plt.plot, "Iteration", "value", alpha=0.8, linewidth=1.5)
g.add_legend(bbox_to_anchor=(0.99, 0.5))
g.set_titles("{col_name}")
g.set_axis_labels("Iteration", "")

g.fig.set_size_inches(9.55, 8.48)
g.fig.subplots_adjust(left=0.052, right=0.868, bottom=0.068, top=0.965,
                      wspace=0.31, hspace=0.2)
g.savefig("out.png", dpi=100)
